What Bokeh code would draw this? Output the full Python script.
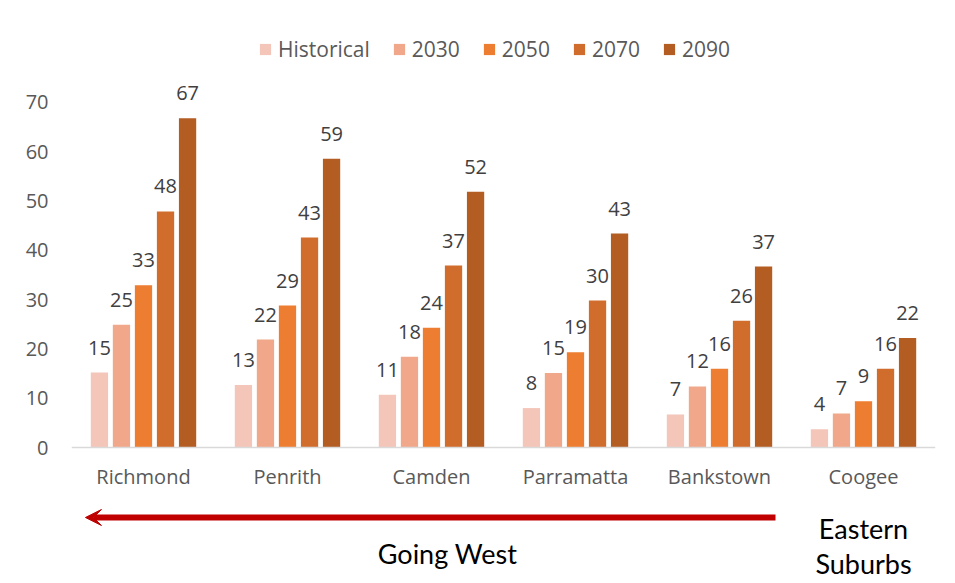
from bokeh.plotting import figure
from bokeh.models import (FactorRange, Range1d, FixedTicker, Legend, LegendItem,
                          Arrow, VeeHead, Label, ColumnDataSource)
from bokeh.transform import dodge
from bokeh.embed import file_html
from bokeh.resources import INLINE
from bokeh.core.properties import value

# ---------------- data ----------------
suburbs = ["Richmond", "Penrith", "Camden", "Parramatta", "Bankstown", "Coogee"]
series_names = ["Historical", "2030", "2050", "2070", "2090"]
historical = [15.2, 12.7, 10.7, 8.0, 6.7, 3.7]
y2030 = [24.9, 21.9, 18.4, 15.1, 12.4, 6.9]
y2050 = [32.9, 28.8, 24.3, 19.3, 16.0, 9.4]
y2070 = [47.9, 42.6, 36.9, 29.8, 25.7, 16.0]
y2090 = [66.8, 58.6, 51.9, 43.4, 36.7, 22.2]
y_ticks = [0, 10, 20, 30, 40, 50, 60, 70]
colors = ["#F4C6B9", "#F0A78A", "#ED7D31", "#D16D2C", "#B35D22"]
west_label = "Going West"
east_label_1 = "Eastern"
east_label_2 = "Suburbs"

all_series = [historical, y2030, y2050, y2070, y2090]
offsets = [-0.306, -0.153, 0.0, 0.153, 0.306]
bar_width = 0.12

FONT = "Open Sans"
TICK_COLOR = "#595959"
LABEL_COLOR = "#404040"

p = figure(width=955, height=583,
           x_range=FactorRange(factors=suburbs, range_padding=0),
           y_range=Range1d(-27.59, 84.6),
           output_backend="svg", toolbar_location=None,
           min_border_left=71, min_border_right=20,
           min_border_top=30, min_border_bottom=0)

p.outline_line_color = None
p.xgrid.visible = False
p.ygrid.visible = False
p.background_fill_color = "white"
p.border_fill_color = "white"

items = []
for name, vals, off, col in zip(series_names, all_series, offsets, colors):
    src = ColumnDataSource(dict(x=suburbs, top=vals,
                                lab=[str(int(round(v))) for v in vals]))
    r = p.vbar(x=dodge("x", off, range=p.x_range), top="top", width=bar_width,
               source=src, fill_color=col, line_color=None)
    p.text(x=dodge("x", off, range=p.x_range), y="top", text="lab", source=src,
           text_align="center", text_baseline="alphabetic", y_offset=-25,
           text_font=value(FONT), text_font_size="20px", text_color=LABEL_COLOR)
    items.append(LegendItem(label=name, renderers=[r]))

legend = Legend(items=items, orientation="horizontal", location=(187, 520),
                glyph_width=14, glyph_height=14, label_standoff=6, spacing=22,
                padding=0, margin=0, border_line_color=None,
                background_fill_alpha=0,
                label_text_font=FONT, label_text_font_size="21px",
                label_text_color=TICK_COLOR)
p.add_layout(legend)

# x axis at y = 0
xa = p.xaxis[0]
xa.fixed_location = 0
xa.axis_line_color = "#D9D9D9"
xa.axis_line_width = 1.5
xa.major_tick_line_color = None
xa.minor_tick_line_color = None
xa.major_label_standoff = 9
xa.major_label_text_font = FONT
xa.major_label_text_font_size = "20px"
xa.major_label_text_color = TICK_COLOR

# y axis
ya = p.yaxis[0]
ya.ticker = FixedTicker(ticks=y_ticks)
ya.axis_line_color = None
ya.major_tick_line_color = None
ya.minor_tick_line_color = None
ya.major_label_standoff = 17
ya.major_label_text_font = FONT
ya.major_label_text_font_size = "20px"
ya.major_label_text_color = TICK_COLOR

# arrow and annotations
arrow = Arrow(end=VeeHead(size=16, fill_color="#C00000", line_color="#C00000"),
              x_start=4.889, y_start=-14.2, x_end=0.097, y_end=-14.2,
              line_color="#C00000", line_width=6)
p.add_layout(arrow)

for txt, xx, yy in [(west_label, 2.611, -21.5), (east_label_1, 5.5, -16.5),
                    (east_label_2, 5.5, -23.6)]:
    p.add_layout(Label(x=xx, y=yy, text=txt, text_align="center",
                       text_baseline="middle", text_font="Lato",
                       text_font_size="27px", text_color="black"))

open("out.html", "w").write(file_html(p, INLINE))
